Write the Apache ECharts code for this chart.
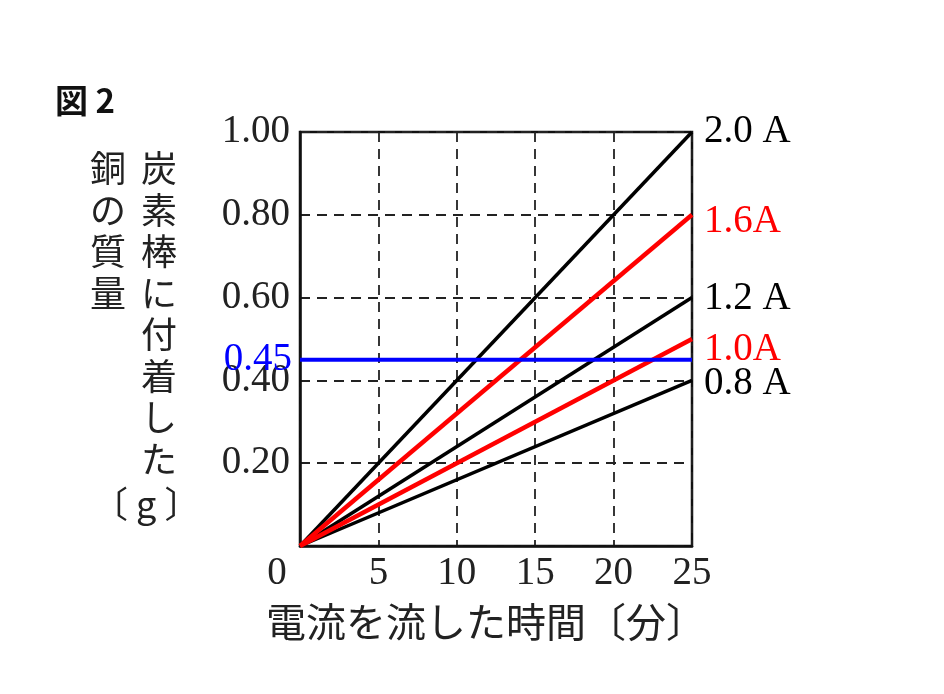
<!DOCTYPE html>
<html lang="ja">
<head>
<meta charset="UTF-8">
<title>図2</title>
<script src="https://cdn.jsdelivr.net/npm/echarts@6/dist/echarts.min.js"></script>
<style>
  html, body { margin: 0; padding: 0; background: #fff; }
  #chart { width: 944px; height: 694px; }
</style>
</head>
<body>
<div id="chart"></div>
<script>
// 電流を流した時間〔分〕
var times = [0, 25];
// 炭素棒に付着した銅の質量〔g〕
var mass08 = [0, 0.40];
var mass10 = [0, 0.50];
var mass12 = [0, 0.60];
var mass16 = [0, 0.80];
var mass20 = [0, 1.00];
var refMass = [0.45, 0.45];
var xTicks = [0, 5, 10, 15, 20, 25];
var yTicks = [0.20, 0.40, 0.60, 0.80, 1.00];

var SERIF = '"Liberation Serif", "DejaVu Serif", serif';
var JP = '"Noto Sans CJK JP", sans-serif';

function pairs(ys) {
  return times.map(function (t, i) { return [t, ys[i]]; });
}

function currentLine(name, ys, color, width, label, offY) {
  return {
    name: name,
    type: 'line',
    data: pairs(ys),
    symbol: 'none',
    silent: true,
    lineStyle: { color: color, width: width },
    endLabel: {
      show: true,
      formatter: label,
      color: color,
      fontFamily: SERIF,
      fontSize: 39,
      offset: [4, offY]
    },
    z: color === '#000' ? 2 : 3
  };
}

var chart = echarts.init(document.getElementById('chart'));
chart.setOption({
  animation: false,
  backgroundColor: '#fff',
  grid: {
    left: 300, right: 252, top: 132, bottom: 148,
    show: true, borderColor: '#111', borderWidth: 2.5
  },
  xAxis: {
    type: 'value', min: 0, max: 25, interval: 5,
    axisLine: { show: true, lineStyle: { color: '#111', width: 2.5 } },
    axisTick: { show: false },
    splitLine: { show: true, lineStyle: { color: '#222', width: 1.8, type: [10, 7] } },
    axisLabel: {
      color: '#222', fontFamily: SERIF, fontSize: 39, margin: 8,
      formatter: function (v) {
        return xTicks.indexOf(v) < 0 ? '' : (v === 0 ? '{z|0}' : String(v));
      },
      rich: { z: { fontFamily: SERIF, fontSize: 39, color: '#222', padding: [0, 46, 0, 0] } }
    },
    name: '電流を流した時間〔分〕',
    nameLocation: 'middle',
    nameGap: 56,
    nameTextStyle: { color: '#222', fontFamily: JP, fontSize: 40, padding: [0, 20, 0, 0] }
  },
  yAxis: [
    {
      type: 'value', min: 0, max: 1, interval: 0.2,
      axisLine: { show: true, lineStyle: { color: '#111', width: 2.5 } },
      axisTick: { show: false },
      splitLine: { show: true, lineStyle: { color: '#222', width: 1.8, type: [10, 7] } },
      axisLabel: {
        color: '#222', fontFamily: SERIF, fontSize: 39, margin: 10,
        formatter: function (v) {
          return v === 0 ? '' : v.toFixed(2);
        }
      }
    },
    {
      // 0.45 の目盛りだけを青で示す補助軸
      type: 'value', min: 0, max: 1, interval: refMass[0],
      position: 'left',
      axisLine: { show: false },
      axisTick: { show: false },
      splitLine: { show: false },
      axisLabel: {
        color: '#00f', fontFamily: SERIF, fontSize: 39, margin: 8,
        padding: [0, 0, 10, 0],
        formatter: function (v) {
          return Math.abs(v - refMass[0]) < 1e-6 ? refMass[0].toFixed(2) : '';
        }
      }
    }
  ],
  series: [
    currentLine('0.8A', mass08, '#000', 3.5, '0.8 A', 3),
    currentLine('1.2A', mass12, '#000', 3.5, '1.2 A', 1),
    currentLine('2.0A', mass20, '#000', 3.5, '2.0 A', 0),
    currentLine('1.0A', mass10, '#f00', 4.5, '1.0A', 11),
    currentLine('1.6A', mass16, '#f00', 4.5, '1.6A', 7),
    {
      name: '0.45',
      type: 'line',
      data: pairs(refMass),
      symbol: 'none',
      silent: true,
      lineStyle: { color: '#00f', width: 4 },
      z: 4
    }
  ],
  graphic: [
    {
      type: 'text', left: 55, top: 84,
      style: { text: '図 2', fill: '#111', font: 'bold 33px "Noto Sans CJK JP"' }
    },
    {
      type: 'text', left: 141, top: 148,
      style: {
        text: '炭\n素\n棒\nに\n付\n着\nし\nた',
        fill: '#222', font: '36px "Noto Sans CJK JP"', lineHeight: 41.5
      }
    },
    {
      type: 'text', left: 90, top: 148,
      style: {
        text: '銅\nの\n質\n量',
        fill: '#222', font: '36px "Noto Sans CJK JP"', lineHeight: 41.5
      }
    },
    {
      type: 'text', left: 92, top: 486,
      style: { text: '〔 g 〕', fill: '#222', font: '36px "Noto Sans CJK JP"' }
    }
  ]
});
</script>
</body>
</html>
